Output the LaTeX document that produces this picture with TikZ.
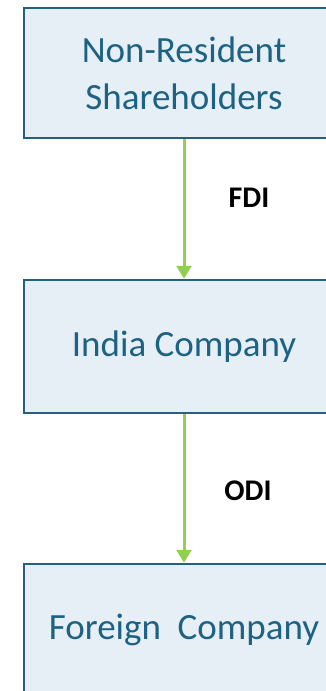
\documentclass[tikz,border=0pt]{standalone}
\usepackage{fontspec}
\setmainfont{Carlito}
\usetikzlibrary{arrows.meta}

\definecolor{boxfill}{HTML}{E7EFF6}
\definecolor{boxline}{HTML}{22617F}
\definecolor{boxtext}{HTML}{1D6283}
\definecolor{flowgreen}{HTML}{92D050}

\tikzset{
    entity/.style={draw=boxline,fill=boxfill,line width=2.5pt,text=boxtext,
        minimum width=320pt,align=center,
        font=\fontsize{37}{47}\selectfont},
    flow/.style={flowgreen,line width=3pt,-{Triangle[width=15pt,length=13pt]}},
    flowlabel/.style={font=\fontsize{30}{32}\selectfont\bfseries}
}

\begin{document}
\begin{tikzpicture}[x=1pt,y=-1pt]
    \useasboundingbox (0,0) rectangle (326,691);
    \begin{scope}
        \clip (0,0) rectangle (326,691);
        % the three parties, top to bottom
        \node[entity,minimum height=130pt] (share) at (184,73) {Non-Resident\\Shareholders};
        \node[entity,minimum height=133pt] (india) at (184,346.5) {India Company};
        \node[entity,minimum height=132pt] (foreign) at (184,630) {Foreign\ \ Company};
    \end{scope}
    % investment flows
    \draw[flow] (share) -- (india);
    \draw[flow] (india) -- (foreign);
    \node[flowlabel] (fdi) at (249,198) {FDI};
    \node[flowlabel] (odi) at (248,491) {ODI};
\end{tikzpicture}
\end{document}
